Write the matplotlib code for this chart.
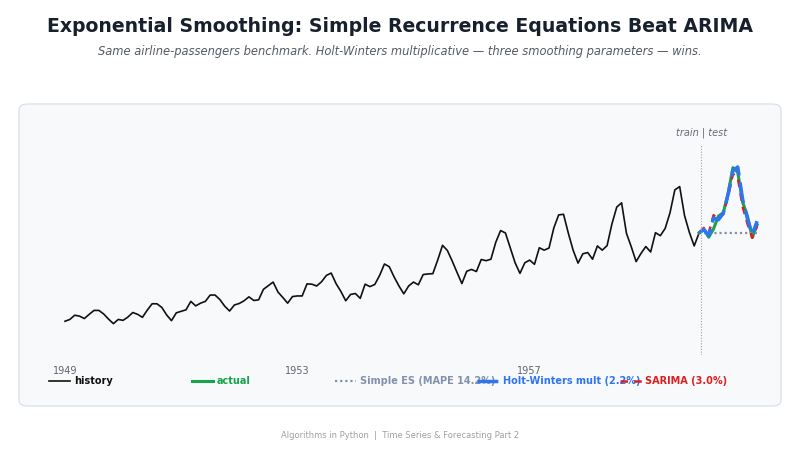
import numpy as np
import matplotlib
matplotlib.use("Agg")
import matplotlib.pyplot as plt
from matplotlib.patches import FancyBboxPatch

plt.rcParams["font.family"] = "DejaVu Sans"

# monthly airline passengers (thousands), 1949-01 .. 1959-12 = history
history = [
    112, 118, 132, 129, 121, 135, 148, 148, 136, 119, 104, 118,
    115, 126, 141, 135, 125, 149, 170, 170, 158, 133, 114, 140,
    145, 150, 178, 163, 172, 178, 199, 199, 184, 162, 146, 166,
    171, 180, 193, 181, 183, 218, 230, 242, 209, 191, 172, 194,
    196, 196, 236, 235, 229, 243, 264, 272, 237, 211, 180, 201,
    204, 188, 235, 227, 234, 264, 302, 293, 259, 229, 203, 229,
    242, 233, 267, 269, 270, 315, 364, 347, 312, 274, 237, 278,
    284, 277, 317, 313, 318, 374, 413, 405, 355, 306, 271, 306,
    315, 301, 356, 348, 355, 422, 465, 467, 404, 347, 305, 336,
    340, 318, 362, 348, 363, 435, 491, 505, 404, 359, 310, 337,
    360, 342, 406, 396, 420, 472, 548, 559, 463, 407, 362, 405,
]
# test year 1960
actual = [417, 391, 419, 461, 472, 535, 622, 606, 508, 461, 390, 432]
simple_es = [405] * 12
holt_winters = [417, 396, 455, 449, 470, 533, 612, 624, 517, 452, 400, 444]
sarima = [422, 404, 464, 450, 468, 527, 601, 590, 493, 436, 389, 428]

tick_pos = [0, 48, 96]
tick_labels = ["1949", "1953", "1957"]

BLACK, GREEN, GREY, BLUE, RED = "#111111", "#16a34a", "#8391ab", "#2f74f0", "#dc1f1f"

W, H = 800, 450
fig = plt.figure(figsize=(8, 4.5), dpi=100)

# panel card
panel = FancyBboxPatch((19 / W, 1 - 406 / H), 762 / W, 302 / H,
                       boxstyle="round,pad=0,rounding_size=0.012",
                       transform=fig.transFigure, facecolor="#f8f9fb",
                       edgecolor="#dde2ea", lw=1.0, zorder=-10)
fig.patches.append(panel)

ax = fig.add_axes([40 / W, 1 - 355 / H, 730 / W, 210 / H])
ax.patch.set_alpha(0)
for s in ax.spines.values():
    s.set_visible(False)

n = len(history)
xh = np.arange(n)
xt = np.arange(n - 1, n + len(actual))
last = history[-1]

ax.plot(xh, history, color=BLACK, lw=1.2, label="history")
ax.plot(xt, [last] + actual, color=GREEN, lw=2.2, label="actual")
ax.plot(xt, [last] + simple_es, color=GREY, lw=1.6, ls=(0, (1, 1.3)),
        label="Simple ES (MAPE 14.2%)")
ax.plot(xt, [last] + sarima, color=RED, lw=1.8, ls=(0, (3, 2.5)),
        label="SARIMA (3.0%)")
ax.plot(xt, [last] + holt_winters, color=BLUE, lw=2.5, ls=(0, (6, 2)),
        label="Holt-Winters mult (2.2%)")

split = n - 0.5
ax.axvline(split, color="#9aa3b2", lw=0.8, ls=(0, (1, 1.5)))
ax.text(split, 1.06, "train | test", transform=ax.get_xaxis_transform(),
        ha="center", va="center", fontsize=7, style="italic", color="#666b75")

ax.set_xlim(-(65 - 40) / 4.84, (770 - 65) / 4.84)
ax.set_ylim(0, 697)
ax.set_yticks([])
ax.set_xticks(tick_pos, tick_labels)
ax.tick_params(axis="x", length=0, pad=8, labelsize=7, labelcolor="#5f646d")

# legend: five equally spaced entries, in reference order
handles, labels = ax.get_legend_handles_labels()
order = [0, 1, 2, 4, 3]
colors = [BLACK, GREEN, GREY, BLUE, RED]
for i, (k, c) in enumerate(zip(order, colors)):
    lg = fig.legend([handles[k]], [labels[k]], loc="center left",
                    bbox_to_anchor=((49 + 142.8 * i) / W, 1 - 381 / H),
                    frameon=False, fontsize=7, handlelength=2.2,
                    handletextpad=0.4, borderpad=0, borderaxespad=0)
    for t in lg.get_texts():
        t.set_color(c)
        t.set_fontweight("bold")

fig.text(0.5, 1 - 26 / H,
         "Exponential Smoothing: Simple Recurrence Equations Beat ARIMA",
         ha="center", va="center", fontsize=13.6, fontweight="bold", color="#17202c")
fig.text(0.5, 1 - 51 / H,
         "Same airline-passengers benchmark. Holt-Winters multiplicative \u2014 "
         "three smoothing parameters \u2014 wins.",
         ha="center", va="center", fontsize=8.3, style="italic", color="#555a66")
fig.text(0.5, 1 - 435 / H,
         "Algorithms in Python  |  Time Series & Forecasting Part 2",
         ha="center", va="center", fontsize=6, color="#a0a0a0")

fig.savefig("out.png", dpi=100)
